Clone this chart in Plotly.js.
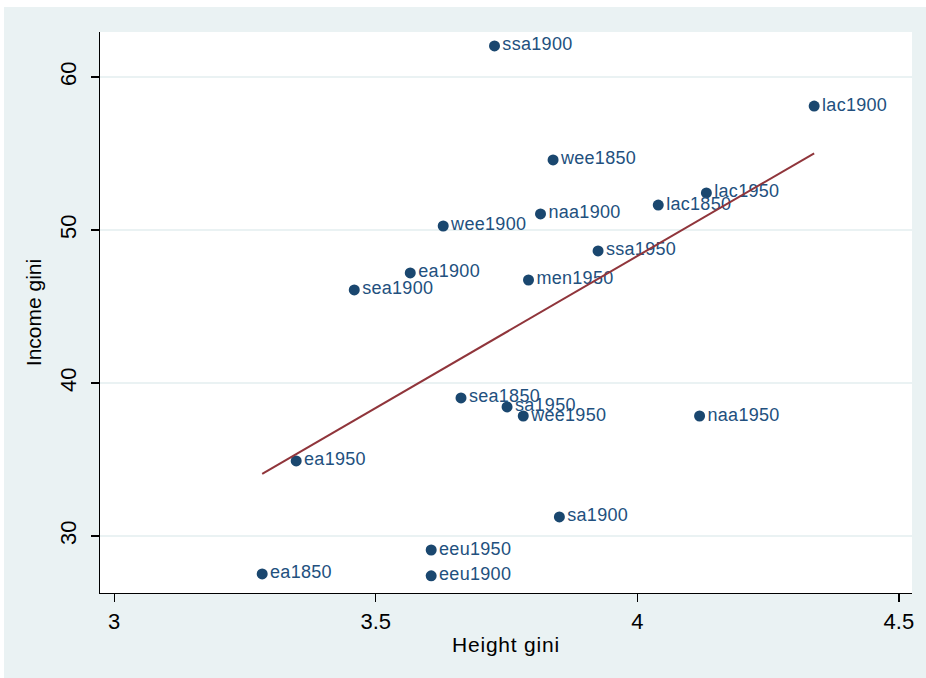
<!DOCTYPE html>
<html>
<head>
<meta charset="utf-8">
<script src="https://cdn.plot.ly/plotly-3.0.1.min.js"></script>
<style>
  html, body { margin: 0; padding: 0; background: #ffffff; }
  #chart { position: absolute; left: 4px; top: 7px; width: 922px; height: 671px; }
  #chart .textpoint text { letter-spacing: 0.3px; }
  #chart .g-xtitle text { letter-spacing: 0.8px; }
</style>
</head>
<body>
<div id="chart"></div>
<script>
// Region-period labels
const labels = ["ssa1900","lac1900","wee1850","lac1950","lac1850","naa1900","wee1900",
  "ssa1950","ea1900","men1950","sea1900","sea1850","sa1950","wee1950","naa1950",
  "ea1950","sa1900","eeu1950","ea1850","eeu1900"];
// Height gini (x)
const heightGini = [3.727,4.338,3.839,4.132,4.040,3.815,3.629,
  3.925,3.566,3.792,3.459,3.663,3.751,3.782,4.119,
  3.348,3.851,3.606,3.283,3.606];
// Income gini (y)
const incomeGini = [62.03,58.10,54.58,52.42,51.63,51.05,50.26,
  48.63,47.19,46.73,46.08,39.02,38.43,37.84,37.84,
  34.90,31.24,29.08,27.52,27.39];
const xTicks = [3, 3.5, 4, 4.5];
const yTicks = [30, 40, 50, 60];

// OLS linear fit from the data
const n = heightGini.length;
const mx = heightGini.reduce((a,b)=>a+b,0)/n;
const my = incomeGini.reduce((a,b)=>a+b,0)/n;
let sxy = 0, sxx = 0;
for (let i = 0; i < n; i++) {
  sxy += (heightGini[i]-mx)*(incomeGini[i]-my);
  sxx += (heightGini[i]-mx)*(heightGini[i]-mx);
}
const slope = sxy/sxx, icpt = my - slope*mx;
const fx = [Math.min(...heightGini), Math.max(...heightGini)];
const fy = fx.map(v => icpt + slope*v);

const font = "Liberation Sans, Arial, sans-serif";

const traces = [
  {
    x: heightGini, y: incomeGini, text: labels,
    type: "scatter", mode: "markers+text",
    textposition: "middle right",
    marker: {color: "#1a476f", size: 11},
    textfont: {family: font, size: 18, color: "#22507e"},
    hoverinfo: "text", showlegend: false
  },
  {
    x: fx, y: fy, type: "scatter", mode: "lines",
    line: {color: "#90353b", width: 2},
    hoverinfo: "skip", showlegend: false
  }
];

const layout = {
  width: 922, height: 671,
  paper_bgcolor: "#eaf2f3",
  plot_bgcolor: "#ffffff",
  margin: {l: 96, r: 14, t: 25, b: 85},
  font: {family: font, color: "#000000"},
  showlegend: false,
  xaxis: {
    range: [2.973, 4.525],
    tickvals: xTicks, ticktext: xTicks.map(String),
    ticks: "outside", ticklen: 8, tickwidth: 1.2, tickcolor: "#000",
    showline: true, linecolor: "#000", linewidth: 1.2,
    showgrid: false, zeroline: false,
    tickfont: {size: 22, family: font},
    title: {text: "Height gini", font: {size: 21, family: font}, standoff: 4}
  },
  yaxis: {
    range: [26.27, 62.94],
    tickvals: yTicks, ticktext: yTicks.map(String),
    tickangle: -90,
    ticks: "outside", ticklen: 8, tickwidth: 1.2, tickcolor: "#000",
    ticklabelstandoff: 6,
    showline: true, linecolor: "#000", linewidth: 1.2,
    showgrid: true, gridcolor: "#eaf2f3", gridwidth: 1.5,
    zeroline: false,
    tickfont: {size: 22, family: font},
    title: {text: "Income gini", font: {size: 21, family: font}, standoff: 8}
  }
};

Plotly.newPlot("chart", traces, layout, {displayModeBar: false, staticPlot: true});
</script>
</body>
</html>
